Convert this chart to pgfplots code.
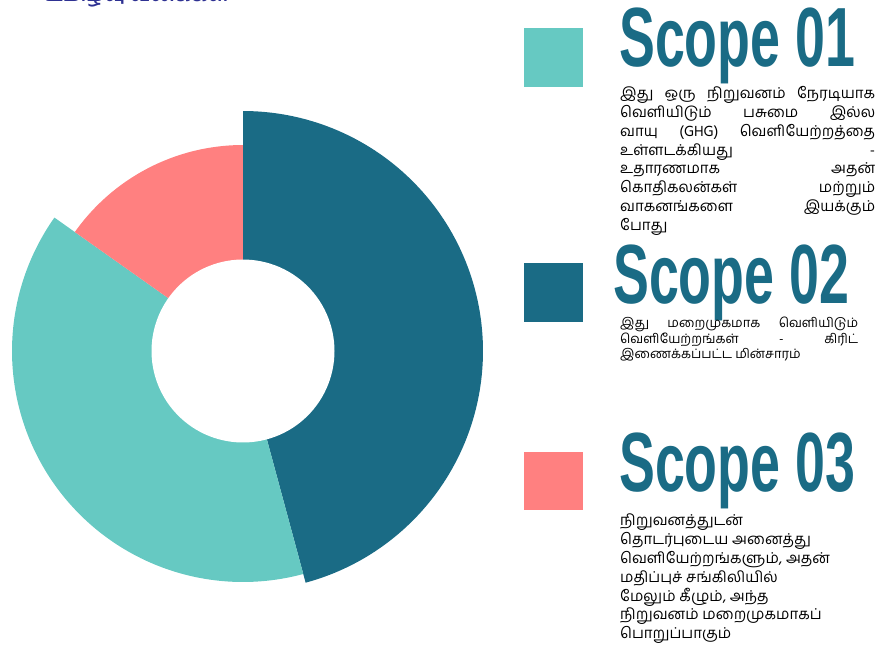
\documentclass[border=0pt]{standalone}
\usepackage{pgfplots}
\pgfplotsset{compat=1.18}
\usepackage{pgfplotstable}
\usepackage{fontspec}
\setmainfont{Liberation Sans}
\newfontfamily\tamil[Script=Tamil]{Hind Madurai}
\newfontfamily\headfont[FakeStretch=0.64]{Liberation Sans}
\definecolor{cdark}{HTML}{1A6B85}
\definecolor{clight}{HTML}{66C9C2}
\definecolor{csalmon}{HTML}{FF8080}
\definecolor{ctitle}{HTML}{2E3192}
\pgfplotstableread{
label value radius
S02 45.8 240
S01 39.0 231
S03 15.2 206
}\donutdata
\pgfplotstablegetelem{0}{value}\of\donutdata \let\va\pgfplotsretval
\pgfplotstablegetelem{1}{value}\of\donutdata \let\vb\pgfplotsretval
\pgfplotstablegetelem{2}{value}\of\donutdata \let\vc\pgfplotsretval
\pgfplotstablegetelem{0}{radius}\of\donutdata \let\ra\pgfplotsretval
\pgfplotstablegetelem{1}{radius}\of\donutdata \let\rb\pgfplotsretval
\pgfplotstablegetelem{2}{radius}\of\donutdata \let\rc\pgfplotsretval
\pgfmathsetmacro\tot{\va+\vb+\vc}
\pgfmathsetmacro\aA{90}
\pgfmathsetmacro\aB{\aA-(\va/\tot)*360}
\pgfmathsetmacro\aC{\aB-(\vb/\tot)*360}
\pgfmathsetmacro\aD{\aC-(\vc/\tot)*360}
\def\cx{243}
\def\cy{351}
\def\rin{91.5}
\begin{document}
\begin{tikzpicture}
\path[use as bounding box] (0,0) rectangle (876pt,648pt);
\begin{axis}[at={(0,0)}, anchor=south west, scale only axis, width=876pt, height=648pt,
  xmin=0, xmax=876, ymin=0, ymax=648, y dir=reverse, hide axis, clip=false]
\addplot[fill=cdark, draw=none, domain=\aB:\aA, samples=120, variable=\t]
  ({\cx+\ra*cos(\t)}, {\cy-\ra*sin(\t)}) -- (axis cs:\cx,\cy) -- cycle;
\addplot[fill=clight, draw=none, domain=\aC:\aB, samples=120, variable=\t]
  ({\cx+\rb*cos(\t)}, {\cy-\rb*sin(\t)}) -- (axis cs:\cx,\cy) -- cycle;
\addplot[fill=csalmon, draw=none, domain=\aD:\aC, samples=60, variable=\t]
  ({\cx+\rc*cos(\t)}, {\cy-\rc*sin(\t)}) -- (axis cs:\cx,\cy) -- cycle;
\addplot[fill=white, draw=none, domain=0:360, samples=120, variable=\t]
  ({\cx+\rin*cos(\t)}, {\cy-\rin*sin(\t)}) -- cycle;
% title (cropped at top)
\node[anchor=base west, inner sep=0, text=ctitle, font=\tamil\bfseries\fontsize{20}{24}\selectfont] at (axis cs:45,1) {உமிழ்வு வகைகள்};
% legend squares
\fill[clight] (axis cs:524,28) rectangle (axis cs:583,87);
\fill[cdark] (axis cs:524,263) rectangle (axis cs:583,322);
\fill[csalmon] (axis cs:524,452) rectangle (axis cs:583,510);
% headings
\node[anchor=base west, inner sep=0, text=cdark, font=\headfont\bfseries\fontsize{84}{84}\selectfont] at (axis cs:619,66) {Scope 01};
\node[anchor=base west, inner sep=0, text=cdark, font=\headfont\bfseries\fontsize{84}{84}\selectfont] at (axis cs:613,303) {Scope 02};
\node[anchor=base west, inner sep=0, text=cdark, font=\headfont\bfseries\fontsize{84}{84}\selectfont] at (axis cs:619,491) {Scope 03};
% descriptions
\node[anchor=north west, inner sep=0, text width=255pt, align=justify, font=\tamil\fontsize{15}{18.9}\selectfont] at (axis cs:620,86)
 {இது ஒரு நிறுவனம் நேரடியாக\linebreak வெளியிடும் பசுமை இல்ல\linebreak வாயு (GHG) வெளியேற்றத்தை\linebreak உள்ளடக்கியது -\linebreak உதாரணமாக அதன்\linebreak கொதிகலன்கள் மற்றும்\linebreak வாகனங்களை இயக்கும்\linebreak போது};
\node[anchor=north west, inner sep=0, text width=238pt, align=justify, font=\tamil\fontsize{13}{15.5}\selectfont] at (axis cs:620,317)
 {இது மறைமுகமாக வெளியிடும்\linebreak வெளியேற்றங்கள் - கிரிட்\linebreak இணைக்கப்பட்ட மின்சாரம்};
\node[anchor=north west, inner sep=0, align=left, font=\tamil\fontsize{15}{18.8}\selectfont] at (axis cs:620,514)
 {நிறுவனத்துடன்\\ தொடர்புடைய அனைத்து\\ வெளியேற்றங்களும், அதன்\\ மதிப்புச் சங்கிலியில்\\ மேலும் கீழும், அந்த\\ நிறுவனம் மறைமுகமாகப்\\ பொறுப்பாகும்};
\end{axis}
\end{tikzpicture}
\end{document}
